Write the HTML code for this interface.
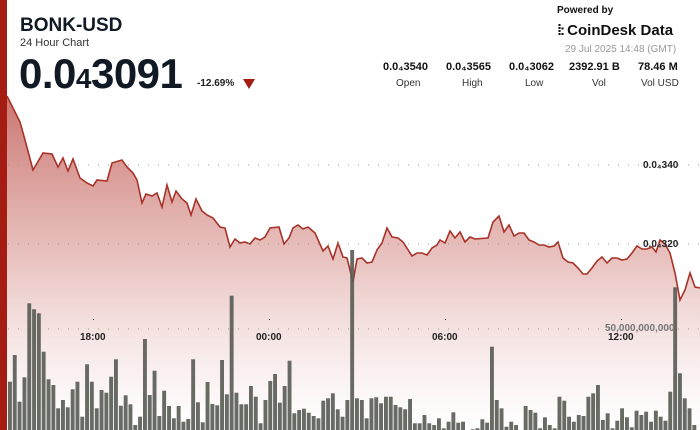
<!DOCTYPE html>
<html><head><meta charset="utf-8"><style>
body{margin:0;width:700px;height:430px;overflow:hidden;background:#fff;font-family:"Liberation Sans",sans-serif;position:relative}
.t{position:absolute;white-space:nowrap}
</style></head><body>
<svg width="700" height="430" style="position:absolute;left:0;top:0">
<defs><linearGradient id="g" x1="0" y1="90" x2="0" y2="430" gradientUnits="userSpaceOnUse">
<stop offset="0" stop-color="#c4625c" stop-opacity="0.9"/><stop offset="0.5" stop-color="#dfa9a5" stop-opacity="0.7"/><stop offset="1" stop-color="#fff" stop-opacity="0.4"/></linearGradient></defs>
<g id="area"></g>
<g stroke="#999" stroke-width="1" stroke-dasharray="1,9">
<line x1="8" y1="165" x2="700" y2="165"/><line x1="8" y1="244" x2="700" y2="244"/><line x1="8" y1="329" x2="700" y2="329"/></g>
<g id="bars" fill="#5b5d57" fill-opacity="0.92"></g>
<g fill="#333"><rect x="93" y="319" width="1" height="1"/><rect x="269" y="319" width="1" height="1"/><rect x="445" y="319" width="1" height="1"/><rect x="621" y="319" width="1" height="1"/></g>
<rect x="0" y="0" width="7" height="430" fill="#a51d12"/>
</svg>
<div class="t" style="left:20px;top:15px;font-size:19px;font-weight:bold;color:#111a24">BONK-USD</div>
<div class="t" style="left:20px;top:37px;font-size:11px;color:#333">24 Hour Chart</div>
<div class="t" style="left:19px;top:50px;font-size:42px;font-weight:bold;color:#111a24;letter-spacing:-0.5px">0.0<span style="font-size:28px">4</span>3091</div>
<div class="t" style="left:197px;top:78px;font-size:10px;font-weight:bold;color:#222">-12.69%</div>
<div class="t" style="left:243px;top:79px;width:0;height:0;border-left:6px solid transparent;border-right:6px solid transparent;border-top:10px solid #a51d12"></div>
<div class="t" style="left:557px;top:5px;font-size:10px;font-weight:bold;color:#111">Powered by</div>
<div class="t" style="left:557px;top:22px;font-size:15px;font-weight:bold;color:#111"><span style="letter-spacing:-2px">⁞:</span> CoinDesk Data</div>
<div class="t" style="left:565px;top:44px;font-size:10px;color:#999">29 Jul 2025 14:48 (GMT)</div>
<div class="t" style="left:383px;top:61px;font-size:11px;font-weight:bold;color:#111">0.0₄3540</div>
<div class="t" style="left:446px;top:61px;font-size:11px;font-weight:bold;color:#111">0.0₄3565</div>
<div class="t" style="left:509px;top:61px;font-size:11px;font-weight:bold;color:#111">0.0₄3062</div>
<div class="t" style="left:569px;top:61px;font-size:11px;font-weight:bold;color:#111">2392.91 B</div>
<div class="t" style="left:638px;top:61px;font-size:11px;font-weight:bold;color:#111">78.46 M</div>
<div class="t" style="left:396px;top:78px;font-size:10px;color:#333">Open</div>
<div class="t" style="left:462px;top:78px;font-size:10px;color:#333">High</div>
<div class="t" style="left:525px;top:78px;font-size:10px;color:#333">Low</div>
<div class="t" style="left:592px;top:78px;font-size:10px;color:#333">Vol</div>
<div class="t" style="left:641px;top:78px;font-size:10px;color:#333">Vol USD</div>
<div class="t" style="left:643px;top:160px;font-size:10px;font-weight:bold;color:#222">0.0₄340</div>
<div class="t" style="left:643px;top:239px;font-size:10px;font-weight:bold;color:#222">0.0₄320</div>
<div class="t" style="left:605px;top:323px;font-size:10px;font-weight:bold;color:#777">50,000,000,000</div>
<div class="t" style="left:80px;top:332px;font-size:10px;font-weight:bold;color:#222">18:00</div>
<div class="t" style="left:256px;top:332px;font-size:10px;font-weight:bold;color:#222">00:00</div>
<div class="t" style="left:432px;top:332px;font-size:10px;font-weight:bold;color:#222">06:00</div>
<div class="t" style="left:608px;top:332px;font-size:10px;font-weight:bold;color:#222">12:00</div>
<script>
var p=[[7,96],[8,98],[20,122],[25,140],[33,170],[43,153],[52,154],[58,167],[63,158],[68,171],[73,159],[80,178],[87,183],[93,186],[97,180],[107,181],[112,163],[122,160],[127,167],[133,173],[137,180],[142,203],[146,194],[152,196],[157,193],[162,207],[167,185],[172,202],[176,191],[182,199],[187,203],[191,215],[196,199],[202,211],[207,215],[213,218],[220,227],[225,228],[230,247],[235,239],[240,243],[245,242],[250,244],[255,238],[260,240],[265,237],[270,228],[279,227],[284,244],[289,238],[293,228],[298,225],[303,229],[308,227],[315,233],[323,251],[328,246],[333,259],[338,243],[343,257],[347,258],[350,270],[353,282],[357,259],[362,258],[367,263],[372,262],[377,250],[382,243],[387,228],[392,237],[398,238],[403,242],[412,256],[417,253],[422,253],[427,255],[432,248],[437,245],[440,240],[445,243],[450,231],[455,238],[460,232],[465,242],[470,237],[475,239],[488,238],[493,222],[499,216],[504,232],[509,225],[514,236],[519,233],[524,233],[529,240],[534,242],[539,245],[544,245],[549,247],[554,246],[558,242],[563,258],[568,262],[573,263],[578,268],[583,274],[587,274],[592,268],[597,261],[602,257],[607,263],[612,258],[617,258],[622,260],[627,259],[632,253],[637,246],[642,249],[647,249],[652,247],[656,252],[660,240],[665,244],[670,253],[675,273],[680,300],[685,290],[690,273],[695,287],[700,288]];
var d=p.map((q,i)=>(i?'L':'M')+q[0]+' '+q[1]).join(' ');
var ns='http://www.w3.org/2000/svg';
var a=document.createElementNS(ns,'path');a.setAttribute('d',d+' L700 430 L7 430 Z');a.setAttribute('fill','url(#g)');
var l=document.createElementNS(ns,'path');l.setAttribute('d',d);l.setAttribute('fill','none');l.setAttribute('stroke','#a83228');l.setAttribute('stroke-width','1.6');
var ga=document.getElementById('area');ga.appendChild(a);ga.appendChild(l);
var t=[875,795,935,862,640,658,670,785,868,885,955,930,952,898,875,980,823,875,955,900,908,860,808,947,916,943,1005,980,747,915,842,978,902,948,985,948,995,987,808,937,997,876,942,946,810,913,617,908,943,943,888,920,1000,930,873,852,938,888,812,970,960,956,968,978,985,932,925,910,958,980,930,
480,925,930,985,925,922,940,920,920,945,952,958,927,1000,1000,975,1000,1005,985,1015,995,967,998,995,1020,1018,1015,988,998,770,930,955,1010,995,1005,1020,948,960,968,1015,982,1005,1015,920,932,980,995,975,978,920,910,885,990,970,1015,992,955,982,1012,962,975,965,995,962,980,992,905,592,850,925,955,1005];
var gb=document.getElementById('bars');
t.forEach((v,i)=>{var x=8+i*4.82;var top=90+v/3;var r=document.createElementNS(ns,'rect');r.setAttribute('x',x.toFixed(1));r.setAttribute('y',top.toFixed(1));r.setAttribute('width','3.9');r.setAttribute('height',(430-top).toFixed(1));gb.appendChild(r);});
</script>
</body></html>
